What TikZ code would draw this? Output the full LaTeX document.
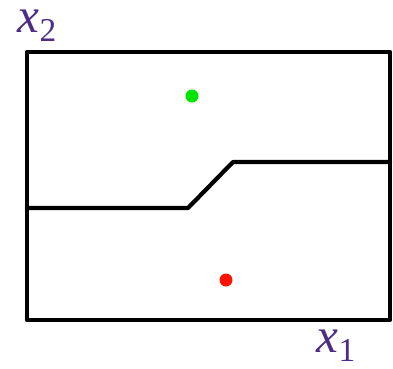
\documentclass[tikz,border=0pt]{standalone}
\usepackage{fontspec}
\setmainfont{Liberation Serif}
\definecolor{axislabel}{HTML}{4B2D86}
\newcommand{\axisname}[2]{\textit{#1}\raisebox{-0.4ex}{\fontsize{19}{20}\selectfont #2}}
\begin{document}
\begin{tikzpicture}[
    x=0.02cm, y=-0.02cm,
    line cap=round,
    line join=round,
    frame/.style={draw=black, line width=2.4pt},
    boundary/.style={draw=black, line width=2.4pt},
    point/.style={circle, inner sep=0pt, minimum size=13*0.02cm},
    axis/.style={text=axislabel, font=\fontsize{28}{30}\selectfont, inner sep=0pt}
]
\useasboundingbox (0,0) rectangle (393,369);

\coordinate (SW) at (27,320);
\coordinate (NE) at (390,52);
\coordinate (L) at (27,208);
\coordinate (K1) at (188,208);
\coordinate (K2) at (233,162);
\coordinate (R) at (390,162);

\draw[frame] (SW) rectangle (NE);
\draw[boundary] (L)--(K1)--(K2)--(R);

\node[point, fill=green!90!black] (g) at (192,96) {};
\node[point, fill=red!85!orange] (r) at (226,280) {};

\node[axis] (x2) at (37,26) {\axisname{x}{2}};
\node[axis] (x1) at (336,346) {\axisname{x}{1}};
\end{tikzpicture}
\end{document}
